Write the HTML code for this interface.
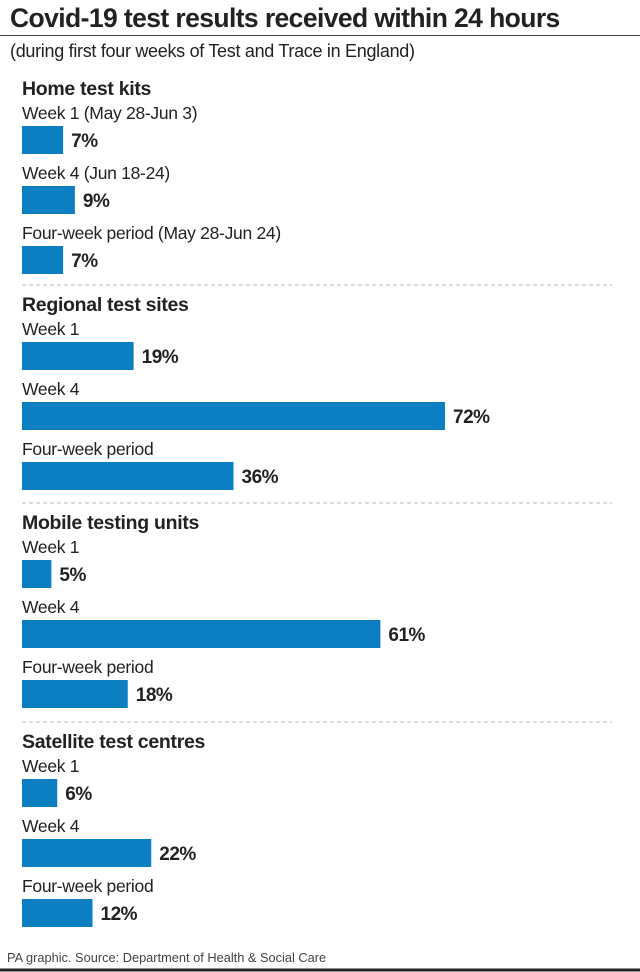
<!DOCTYPE html>
<html><head><meta charset="utf-8"><style>
body{margin:0;background:#fff;}
svg{display:block;font-family:"Liberation Sans",sans-serif;}
</style></head><body>
<svg id="chart" width="640" height="972" viewBox="0 0 640 972">
<text x="10" y="27" font-size="26.5" font-weight="bold" fill="#222" letter-spacing="-0.6">Covid-19 test results received within 24 hours</text>
<line x1="0" y1="35.5" x2="640" y2="35.5" stroke="#444" stroke-width="1"/>
<text x="10" y="57" font-size="18" fill="#222" letter-spacing="-0.3">(during first four weeks of Test and Trace in England)</text>
<g id="bars"></g>
<text x="7" y="962" font-size="12.8" fill="#444">PA graphic. Source: Department of Health &amp; Social Care</text>
<line x1="0" y1="970" x2="640" y2="970" stroke="#222" stroke-width="3"/>
</svg>
<script>
const groups = ["Home test kits","Regional test sites","Mobile testing units","Satellite test centres"];
const rowLabels = [
 ["Week 1 (May 28-Jun 3)","Week 4 (Jun 18-24)","Four-week period (May 28-Jun 24)"],
 ["Week 1","Week 4","Four-week period"],
 ["Week 1","Week 4","Four-week period"],
 ["Week 1","Week 4","Four-week period"]
];
const values = [[7,9,7],[19,72,36],[5,61,18],[6,22,12]];
const NS="http://www.w3.org/2000/svg";
const g=document.getElementById('bars');
const groupTop=[95,311,529,748];
const x=v=>v*5.875;
function mk(t,a,txt){const e=document.createElementNS(NS,t);for(const k in a)e.setAttribute(k,a[k]);if(txt!=null)e.textContent=txt;g.appendChild(e);return e;}
groups.forEach((name,gi)=>{
 const g0=groupTop[gi];
 if(gi>0){
  const s=mk('line',{x1:22,y1:g0-26,x2:612,y2:g0-26,stroke:'#bbb','stroke-dasharray':'4,3'});
  
  
 }
 const h=mk('text',{x:22,y:g0,'font-size':19.5,'font-weight':'bold',fill:'#222','letter-spacing':-0.3},name);
 
 
 values[gi].forEach((v,k)=>{
  const l=mk('text',{x:22,y:g0+24+60*k,'font-size':17.5,fill:'#222','letter-spacing':-0.3},rowLabels[gi][k]);
  
  
  const top=g0+31+60*k;
  const r=mk('rect',{x:22,y:top,width:x(v),height:28,fill:'#0b7fc1'});
  
  
  const t=mk('text',{x:22+x(v)+8,y:top+21,'font-size':19,'font-weight':'bold',fill:'#222','letter-spacing':-0.5},v+'%');
  
  
 });
});
</script>
</body></html>
